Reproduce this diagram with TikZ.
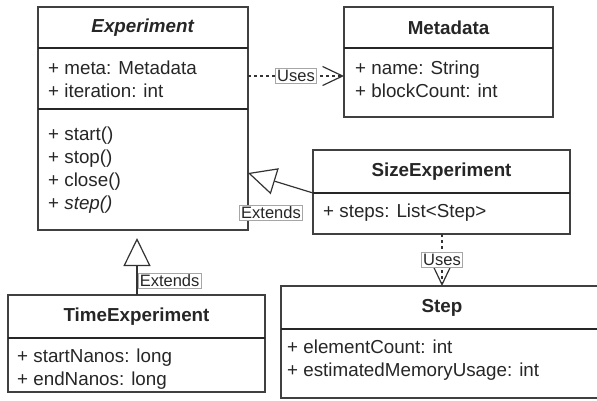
\documentclass[tikz,border=0pt]{standalone}
\usepackage{fontspec}
\setmainfont{Liberation Sans}
\usetikzlibrary{arrows.meta}

\begin{document}
\begin{tikzpicture}[x=1pt, y=-1pt, font=\fontsize{18.8}{23}\selectfont]
\tikzset{cls/.style={draw=black!75, line width=1.5pt, anchor=north west, inner sep=0pt, outer sep=0pt},
  sep/.style={draw=black!85, line width=1.2pt},
  title/.style={font=\fontsize{18.8}{23}\selectfont\bfseries, text=black!85},
  attr/.style={anchor=west, align=left, inner sep=0pt, text=black!85},
  lbl/.style={solid, draw=black!35, fill=white, inner sep=1.5pt, line width=0.6pt, font=\fontsize{16.5}{18}\selectfont, text=black!85},
  uses/.style={draw=black!80, line width=1.2pt, dash pattern=on 3pt off 3pt, -{Straight Barb[length=20pt, width=19pt, line width=1.2pt]}},
  ext/.style={draw=black!80, line width=1.2pt, -{Triangle[open, length=28pt, width=27pt, fill=white, line width=1.2pt]}}}
\useasboundingbox (0,0) rectangle (597,400);
\clip (0,0) rectangle (597,400);
% classes
\node[cls, minimum width=210pt, minimum height=223pt] (exp) at (38,7) {};
\node[cls, minimum width=209pt, minimum height=110pt] (meta) at (344,7) {};
\node[cls, minimum width=257pt, minimum height=84pt] (size) at (313,150) {};
\node[cls, minimum width=257pt, minimum height=97pt] (time) at (8,295) {};
\node[cls, minimum width=330pt, minimum height=112pt] (step) at (281,286) {};
\draw[sep] (exp.west |- 0,48) -- (exp.east |- 0,48);
\draw[sep] (exp.west |- 0,109) -- (exp.east |- 0,109);
\draw[sep] (meta.west |- 0,48) -- (meta.east |- 0,48);
\draw[sep] (size.west |- 0,193) -- (size.east |- 0,193);
\draw[sep] (time.west |- 0,338) -- (time.east |- 0,338);
\draw[sep] (step.west |- 0,329) -- (step.east |- 0,329);
% texts
\node[title] (expname) at (143,27.5) {\textit{Experiment}};
\node[attr] (expattr) at (48,79.5) {+ meta: Metadata\\+ iteration: int};
\node[attr] (expops) at (48,170.5) {+ start()\\+ stop()\\+ close()\\+ \textit{step()}};
\node[title] (metaname) at (448.5,27.5) {Metadata};
\node[attr] (metaattr) at (355,79.5) {+ name: String\\+ blockCount: int};
\node[title] (sizename) at (441.5,171.5) {SizeExperiment};
\node[attr] (sizeattr) at (323,213) {+ steps: List<Step>};
\node[title] (timename) at (136.5,316.5) {TimeExperiment};
\node[attr] (timeattr) at (17,369) {+ startNanos: long\\+ endNanos: long};
\node[title] (stepname) at (442,308) {Step};
\node[attr] (stepattr) at (287,360.5) {+ elementCount: int\\+ estimatedMemoryUsage: int};
% relations
\draw[uses] (exp.east |- 0,76) -- (meta.west |- 0,76) node[lbl, midway] (uses1) {Uses};
\draw[ext] (size.west |- 0,193) -- (exp.east |- 0,173);
\node[lbl] (ext1) at (271,213) {Extends};
\draw[ext, shorten >=8pt] (time.north -| 137,0) -- (exp.south -| 137,0);
\node[lbl, anchor=west] (ext2) at (138,281) {Extends};
\draw[uses] (size.south -| 442,0) -- (step.north -| 442,0) node[lbl, midway] (uses2) {Uses};
\end{tikzpicture}
\end{document}
